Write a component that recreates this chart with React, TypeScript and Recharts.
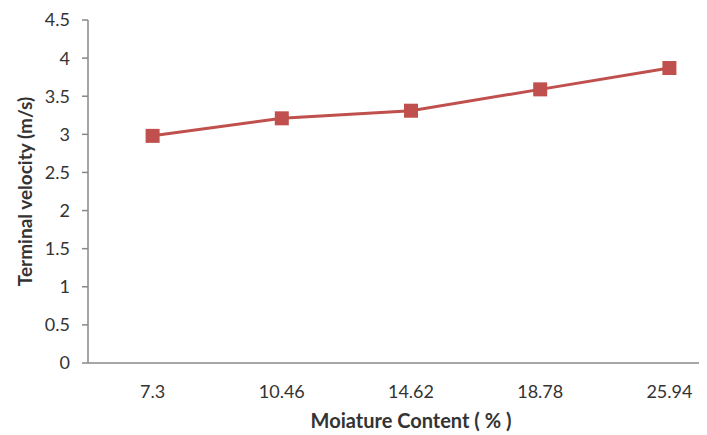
import React from "react"
import { LineChart, Line, XAxis, YAxis } from "recharts"

const moisture = ["7.3", "10.46", "14.62", "18.78", "25.94"]
const velocity = [2.98, 3.21, 3.31, 3.59, 3.87]
const yTicks = [0, 0.5, 1, 1.5, 2, 2.5, 3, 3.5, 4, 4.5]
const bandTicks = [0, 1, 2, 3, 4, 5]

const data = moisture.map((m, i) => ({ moisture: m, velocity: velocity[i], pos: i + 0.5 }))

const axisColor = "#888888"
const textColor = "#333333"
const font = "Lato, 'DejaVu Sans', sans-serif"

const SquareDot = (props: any) => {
  const { cx, cy } = props
  if (cx == null || cy == null) return null
  return <rect x={cx - 7} y={cy - 7} width={14} height={14} fill="#C0504D" />
}

export default function App() {
  return (
    <div style={{ width: 699, height: 427, overflow: "hidden" }}>
      <LineChart
        width={740}
        height={427}
        data={data}
        margin={{ top: 12, right: 14, bottom: 0, left: 0 }}
        style={{ fontFamily: font }}
      >
        {/* tick marks sit between categories, so draw them from a numeric axis */}
        <XAxis
          xAxisId="bands"
          type="number"
          dataKey="pos"
          domain={[0, 5]}
          ticks={bandTicks}
          height={0}
          tick={false}
          tickSize={6}
          tickLine={{ stroke: axisColor, strokeWidth: 1.5 }}
          axisLine={false}
        />
        <XAxis
          dataKey="moisture"
          height={72}
          padding={{ left: 64.6, right: 64.6 }}
          tickLine={false}
          tickSize={0}
          tickMargin={22}
          axisLine={{ stroke: axisColor, strokeWidth: 1.5 }}
          tick={{ fill: textColor, fontSize: 18 }}
          interval={0}
          label={{
            value: "Moiature Content ( % )",
            position: "insideBottom",
            offset: 7,
            fill: textColor,
            fontSize: 20,
            fontWeight: "bold",
          }}
        />
        <YAxis
          width={80}
          domain={[0, 4.5]}
          ticks={yTicks}
          interval={0}
          tickSize={6}
          tickMargin={12}
          tickLine={{ stroke: axisColor, strokeWidth: 1.5 }}
          axisLine={{ stroke: axisColor, strokeWidth: 1.5 }}
          tick={{ fill: textColor, fontSize: 18 }}
          label={{
            value: "Terminal velocity (m/s)",
            angle: -90,
            position: "insideLeft",
            offset: 17,
            fill: textColor,
            fontSize: 19,
            fontWeight: "bold",
            style: { textAnchor: "middle" },
          }}
        />
        <Line
          type="linear"
          dataKey="velocity"
          stroke="#C0504D"
          strokeWidth={3}
          dot={<SquareDot />}
          activeDot={false}
          isAnimationActive={false}
        />
      </LineChart>
    </div>
  )
}
